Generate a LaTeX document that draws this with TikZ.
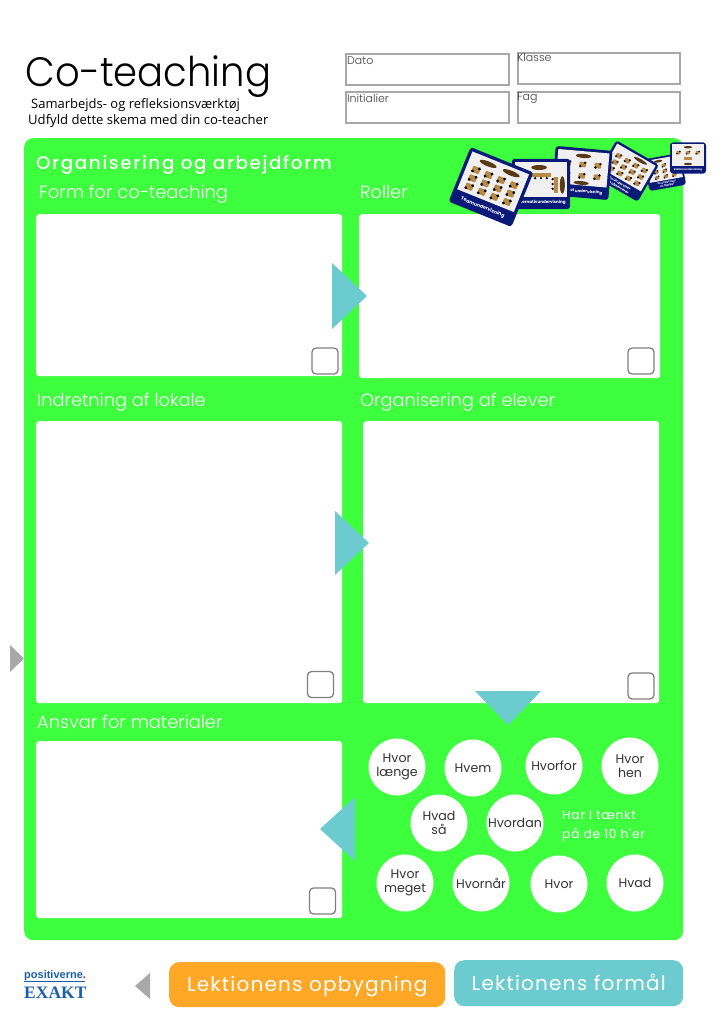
\documentclass[tikz,border=0pt]{standalone}
\usepackage{fontspec}
\setmainfont{Poppins}
\newfontfamily\bodyfont{Open Sans}
\newfontfamily\logofont{Liberation Serif}
\newfontfamily\logosans{Liberation Sans}
\newfontfamily\lightfont{Poppins Light}
\newfontfamily\spacedfont[LetterSpace=6]{Poppins}
\newfontfamily\mainhead[LetterSpace=9]{Poppins Medium}
\definecolor{panelgreen}{HTML}{3EFF3E}
\definecolor{arrowteal}{HTML}{6CCBCF}
\definecolor{btnorange}{HTML}{FFA726}
\definecolor{boxgray}{HTML}{A8A8A8}
\definecolor{cardnavy}{HTML}{0A1A78}
\definecolor{cardgray}{HTML}{F0F0F0}
\definecolor{desktan}{HTML}{B98A45}
\definecolor{deskbrown}{HTML}{5A3A16}
\definecolor{logoblue}{HTML}{1B5FA8}
\definecolor{logored}{HTML}{C8102E}
\tikzset{
  whitebox/.style={fill=white,rounded corners=3pt,anchor=north west,inner sep=0pt},
  formbox/.style={draw=boxgray,line width=1.8pt,anchor=north west,inner sep=0pt},
  formlabel/.style={anchor=north west,inner sep=0pt,text=black!75,font=\lightfont\fontsize{11}{11}\selectfont},
  tickbox/.style={draw=black!50,line width=1.3pt,rounded corners=4pt,minimum size=26pt,inner sep=0pt},
  heading/.style={anchor=base west,inner sep=0pt,text=white,font=\lightfont\fontsize{17.8}{17.8}\selectfont},
  question/.style={circle,fill=white,minimum size=57pt,inner sep=0pt,align=center,text=black!80,
    font=\fontsize{12.6}{14}\selectfont},
  tealarrow/.style={fill=arrowteal},
  grayarrow/.style={fill=boxgray},
  button/.style={rounded corners=10pt,anchor=north west,inner sep=0pt},
  buttontext/.style={text=white,inner sep=0pt,font=\spacedfont\fontsize{20}{20}\selectfont},
}
% desk with two pupils, table ellipse
\newcommand{\seat}[2]{
  \fill[desktan,rounded corners=1pt] (#1-3.5,#2-2.8) rectangle (#1+3.5,#2+2.8);
  \fill[black] (#1+2.5,#2-2) circle (1.4pt) (#1-2.5,#2+2) circle (1.4pt);
}
\newcommand{\desktable}[4]{\fill[deskbrown] (#1,#2) ellipse (#3 and #4);}
% one small seating card: x, y, angle, scale, label, furniture
\newcommand{\seatcard}[6]{
  \begin{scope}[shift={(#1,#2)},rotate=#3,scale=#4]
    \fill[cardnavy,rounded corners=3pt] (-30,-26) rectangle (30,26);
    \fill[cardgray] (-27,-23) rectangle (27,13);
    #6
    \node[transform shape,text=white,inner sep=0pt,align=center,font=\bfseries\fontsize{4.2}{4.8}\selectfont]
      at (0,19.5) {#5};
  \end{scope}
}
\begin{document}
\begin{tikzpicture}[x=1pt,y=-1pt]
  \useasboundingbox (0,0) rectangle (724,1024);

  % header
  \node [anchor=base west,inner sep=0pt,xscale=0.94,font=\lightfont\fontsize{41}{41}\selectfont] (title) at (25.5,87) {Co-teaching};
  \node [anchor=base west,inner sep=0pt,font=\bodyfont\fontsize{13}{13}\selectfont] (sub1) at (31,109) {Samarbejds- og refleksionsværktøj};
  \node [anchor=base west,inner sep=0pt,font=\bodyfont\fontsize{13.1}{13}\selectfont] (sub2) at (28,125) {Udfyld dette skema med din co-teacher};

  \node [formbox,minimum width=163pt,minimum height=31pt] (dato) at (345,53.5) {};
  \node [formbox,minimum width=162pt,minimum height=31pt] (klasse) at (517,52.5) {};
  \node [formbox,minimum width=163pt,minimum height=31pt] (initialier) at (345,91.5) {};
  \node [formbox,minimum width=162pt,minimum height=31pt] (fag) at (517,91.5) {};
  \node [formlabel] at (347,57) {Dato};
  \node [formlabel] at (517,53) {Klasse};
  \node [formlabel] at (347,94) {Initialier};
  \node [formlabel] at (517,93) {Fag};

  % green sheet
  \node [fill=panelgreen,rounded corners=9pt,anchor=north west,inner sep=0pt,minimum width=659pt,minimum height=802pt] (sheet) at (24,138) {};
  \node [anchor=base west,inner sep=0pt,text=white,font=\mainhead\fontsize{18.3}{18}\selectfont] (main) at (36,170) {Organisering og arbejdform};

  \node [heading] (hform) at (39,199) {Form for co-teaching};
  \node [heading] (hroller) at (360,199) {Roller};
  \node [heading] (hlokale) at (37,406) {Indretning af lokale};
  \node [heading] (helever) at (360,406.5) {Organisering af elever};
  \node [heading] (hansvar) at (37,728) {Ansvar for materialer};

  \node [whitebox,minimum width=306pt,minimum height=162pt] (form) at (36,214) {};
  \node [whitebox,minimum width=301pt,minimum height=164pt] (roller) at (359,214) {};
  \node [whitebox,minimum width=306pt,minimum height=282pt] (lokale) at (36,421) {};
  \node [whitebox,minimum width=296pt,minimum height=282pt] (elever) at (363,421) {};
  \node [whitebox,minimum width=306pt,minimum height=177pt] (ansvar) at (36,741) {};

  \node [tickbox] (tick1) at (325,361) {};
  \node [tickbox] (tick2) at (641,361) {};
  \node [tickbox] (tick3) at (320.5,684.5) {};
  \node [tickbox] (tick4) at (641,686) {};
  \node [tickbox] (tick5) at (322.5,901) {};

  \fill [tealarrow] (332,263) -- (367,296) -- (332,329) -- cycle;
  \fill [tealarrow] (335,511) -- (369,543) -- (335,575) -- cycle;
  \fill [tealarrow] (475,691) -- (541,691) -- (508,725) -- cycle;
  \fill [tealarrow] (355,797) -- (320,829) -- (355,861) -- cycle;

  % seating cards
  \seatcard{665}{172}{10}{0.62}{En underviser\\en hjælper}{
    \foreach \x in {-14,0,14} \foreach \y in {-11,-2,7} {\seat{\x}{\y}}
    \desktable{-8}{-19}{7}{2}}
  \seatcard{688}{158}{0}{0.6}{Stationsundervisning}{
    \foreach \x in {-16,0,16} {\seat{\x}{-9}}
    \fill[desktan] (-6,-2) rectangle (6,4);
    \desktable{0}{-18}{7}{2} \desktable{0}{10}{7}{2}}
  \seatcard{627}{171}{-30}{0.82}{En underviser\\en observerer}{
    \foreach \x in {-18,-6,6,18} \foreach \y in {-11,-2,7} {\seat{\x}{\y}}
    \desktable{8}{-19}{9}{2}}
  \seatcard{582}{173}{-5}{0.95}{Parallel undervisning}{
    \foreach \x in {-16,0,16} \foreach \y in {-9,3} {\seat{\x}{\y}}
    \desktable{0}{-18}{8}{2.2} \desktable{0}{10.5}{8}{2}}
  \seatcard{541}{184}{0}{0.97}{Alternativundervisning}{
    \desktable{-2}{-17}{8}{2.6}
    \fill[desktan] (-14,-11) rectangle (10,-7);
    \foreach \x in {-12,-6,0,6} {\fill[black] (\x,-6) circle (1.3pt);}
    \desktable{22}{1}{2.6}{9}
    \fill[desktan] (13,-7) rectangle (18,9);
    \foreach \y in {-5,0,5} {\fill[black] (12,\y) circle (1.3pt);}}
  \seatcard{491}{187}{-22}{1.13}{Teamundervisning}{
    \foreach \x in {-18,-6,6,18} \foreach \y in {-9,-1,7} {\seat{\x}{\y}}
    \desktable{-10}{-18}{8}{2.2} \desktable{12}{-18}{8}{2.2}}

  % the 10 questions
  \node [question] (laenge) at (397,767) {Hvor\\længe};
  \node [question] (hvem) at (473,768) {Hvem};
  \node [question] (hvorfor) at (554,766) {Hvorfor};
  \node [question] (hen) at (630,766) {Hvor\\hen};
  \node [question] (saa) at (439,823) {Hvad\\så};
  \node [question] (hvordan) at (515,823) {Hvordan};
  \node [question] (meget) at (405,883) {Hvor\\meget};
  \node [question] (hvornaar) at (481,883) {Hvornår};
  \node [question] (hvor) at (559,884) {Hvor};
  \node [question] (hvad) at (635,883) {Hvad};
  \node [anchor=west,inner sep=0pt,align=left,text=white,font=\spacedfont\fontsize{12.3}{19}\selectfont] (tenh) at (562,826) {Har I tænkt\\på de 10 h'er};

  \fill [grayarrow] (10,645) -- (24,658.5) -- (10,672) -- cycle;
  \fill [grayarrow] (150,973) -- (135,986) -- (150,999) -- cycle;

  % footer
  \node [button,fill=btnorange,minimum width=276pt,minimum height=45pt] (opbygning) at (169,962) {};
  \node [button,fill=arrowteal,minimum width=229pt,minimum height=46pt] (formaal) at (454,960) {};
  \node [buttontext,yshift=-1.5pt] at (opbygning) {Lektionens opbygning};
  \node [buttontext,yshift=1pt] at (formaal) {Lektionens formål};

  \node [anchor=base west,inner sep=0pt,text=logoblue,font=\logosans\bfseries\fontsize{11}{11}\selectfont] (logotop) at (24,978) {positiverne\textcolor{logored}{.}};
  \draw [logoblue,line width=0.8pt] (24,981) -- (85,981);
  \node [anchor=base west,inner sep=0pt,text=logoblue,font=\logofont\bfseries\fontsize{17.5}{17.5}\selectfont] (logobottom) at (24,998) {EXAKT};
\end{tikzpicture}
\end{document}
